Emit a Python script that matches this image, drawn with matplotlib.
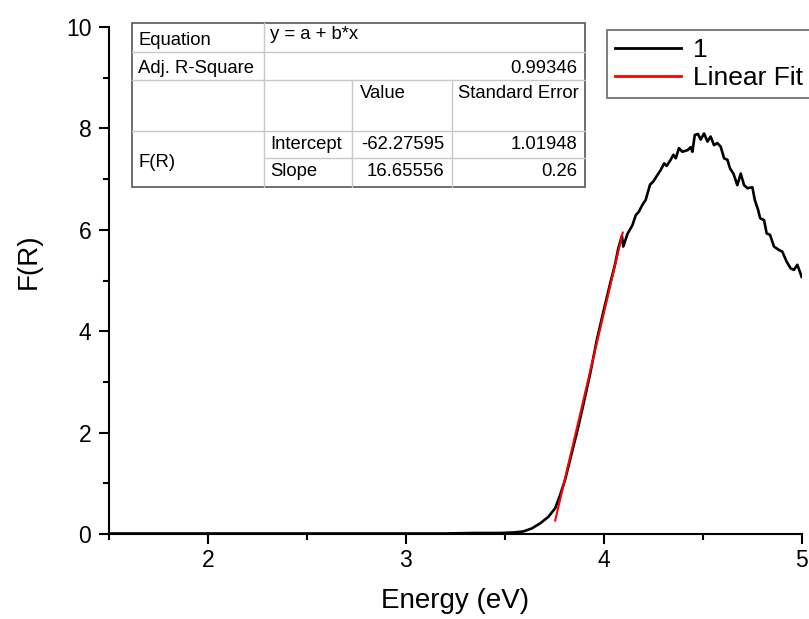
import matplotlib
matplotlib.use("Agg")
import matplotlib.pyplot as plt
from matplotlib.lines import Line2D
from matplotlib.patches import Rectangle
from matplotlib.ticker import MultipleLocator

plt.rcParams['font.family'] = ['Liberation Sans', 'DejaVu Sans']

# Kubelka-Munk spectrum F(R) against photon energy
energy = [1.50, 1.75, 2.00, 2.25, 2.50, 2.75, 3.00, 3.20, 3.35, 3.48,
          3.544, 3.594, 3.637, 3.679, 3.721, 3.755, 3.780, 3.805, 3.839, 3.872,
          3.897, 3.931, 3.965, 3.998, 4.032, 4.058, 4.074, 4.092, 4.099, 4.120,
          4.145, 4.162, 4.178, 4.195, 4.212, 4.234, 4.250, 4.271, 4.288, 4.305,
          4.318, 4.338, 4.352, 4.364, 4.380, 4.397, 4.423, 4.440, 4.448, 4.460,
          4.476, 4.490, 4.507, 4.524, 4.540, 4.557, 4.574, 4.591, 4.608, 4.625,
          4.638, 4.655, 4.675, 4.692, 4.709, 4.726, 4.751, 4.763, 4.780, 4.790,
          4.810, 4.823, 4.840, 4.860, 4.886, 4.902, 4.924, 4.944, 4.961, 4.978,
          5.000]
f_r = [0.01, 0.01, 0.01, 0.01, 0.01, 0.01, 0.01, 0.01, 0.02, 0.02,
       0.03, 0.05, 0.11, 0.21, 0.34, 0.51, 0.77, 1.07, 1.60, 2.12,
       2.55, 3.15, 3.82, 4.38, 4.93, 5.33, 5.64, 5.88, 5.67, 5.92,
       6.09, 6.29, 6.36, 6.49, 6.59, 6.89, 6.95, 7.08, 7.18, 7.31,
       7.26, 7.38, 7.48, 7.41, 7.61, 7.54, 7.57, 7.63, 7.54, 7.87,
       7.89, 7.78, 7.90, 7.74, 7.84, 7.67, 7.71, 7.64, 7.41, 7.38,
       7.21, 7.11, 6.88, 7.11, 6.88, 6.82, 6.84, 6.59, 6.39, 6.23,
       6.19, 5.93, 5.90, 5.67, 5.60, 5.57, 5.37, 5.24, 5.21, 5.31,
       5.07]

# linear fit of the absorption edge
fit_intercept = -62.27595
fit_intercept_err = 1.01948
fit_slope = 16.65556
fit_slope_err = 0.26
adj_r_square = 0.99346
fit_range = [3.755, 4.096]

W, H = 809, 619
fig = plt.figure(figsize=(W / 100, H / 100), dpi=100)
ax = fig.add_axes([108.7 / W, 85 / H, 693 / W, 507 / H])

fit_y = [fit_intercept + fit_slope * e for e in fit_range]
ax.plot(energy, f_r, color='black', lw=1.9, label='1')
ax.plot(fit_range, fit_y, color='#ff0000', lw=1.5, label='Linear Fit')

ax.set_xlim(1.5, 5)
ax.set_ylim(0, 10)
ax.xaxis.set_major_locator(MultipleLocator(1))
ax.xaxis.set_minor_locator(MultipleLocator(0.5))
ax.yaxis.set_major_locator(MultipleLocator(2))
ax.yaxis.set_minor_locator(MultipleLocator(1))
for side in ('top', 'right'):
    ax.spines[side].set_visible(False)
for side in ('left', 'bottom'):
    ax.spines[side].set_linewidth(1.5)
ax.tick_params(which='major', direction='out', length=7.5, width=1.5, labelsize=16.5)
ax.tick_params(which='minor', direction='out', length=4, width=1.5)
ax.tick_params(axis='x', which='major', pad=3.5)
ax.tick_params(axis='y', which='major', pad=5)

ax.set_xlabel('Energy (eV)', fontsize=20, va='top')
ax.xaxis.set_label_coords(0.5, -(588 - 534) / 507)
ax.set_ylabel('F(R)', fontsize=20)
ax.yaxis.set_label_coords((42 - 108.7) / 693, (534 - 261) / 507)

leg = ax.legend(loc='upper left', bbox_to_anchor=(607 / W, 1 - 30 / H),
                bbox_transform=fig.transFigure, fontsize=19, frameon=True,
                fancybox=False, borderaxespad=0, borderpad=0.3,
                handlelength=2.5, handletextpad=0.45, labelspacing=0.15)
leg.get_frame().set_edgecolor('#404040')
leg.get_frame().set_linewidth(1.2)
for handle in leg.get_lines():
    handle.set_linewidth(2)


def fx(x):
    return x / W


def fy(y):
    return 1 - y / H


# fit results table
x0, x1, y0, y1 = 132, 585, 23, 187
fig.add_artist(Rectangle((fx(x0), fy(y1)), fx(x1) - fx(x0), fy(y0) - fy(y1),
                         transform=fig.transFigure, facecolor='white',
                         edgecolor='#555555', lw=1.2, zorder=5))
grid_lines = [
    ((132, 585), (52, 52)),
    ((132, 585), (80, 80)),
    ((132, 585), (131, 131)),
    ((264, 585), (158, 158)),
    ((264, 264), (23, 187)),
    ((352, 352), (80, 187)),
    ((452, 452), (80, 187)),
]
for xs, ys in grid_lines:
    fig.add_artist(Line2D([fx(v) for v in xs], [fy(v) for v in ys],
                          transform=fig.transFigure, color='#c8c8c8', lw=1, zorder=6))

cells = [
    ('Equation', 138, 45, 'left'),
    ('y = a + b*x', 270, 39, 'left'),
    ('Adj. R-Square', 138, 73, 'left'),
    (f'{adj_r_square}', 577, 73, 'right'),
    ('Value', 360, 98, 'left'),
    ('Standard Error', 458, 98, 'left'),
    ('F(R)', 138, 167, 'left'),
    ('Intercept', 270, 149, 'left'),
    (f'{fit_intercept}', 444, 149, 'right'),
    (f'{fit_intercept_err}', 577, 149, 'right'),
    ('Slope', 270, 176, 'left'),
    (f'{fit_slope}', 444, 176, 'right'),
    (f'{fit_slope_err}', 577, 176, 'right'),
]
for txt, x, y, ha in cells:
    fig.text(fx(x), fy(y), txt, fontsize=13.3, ha=ha, va='baseline', zorder=7)

fig.savefig('out.png', dpi=100)
